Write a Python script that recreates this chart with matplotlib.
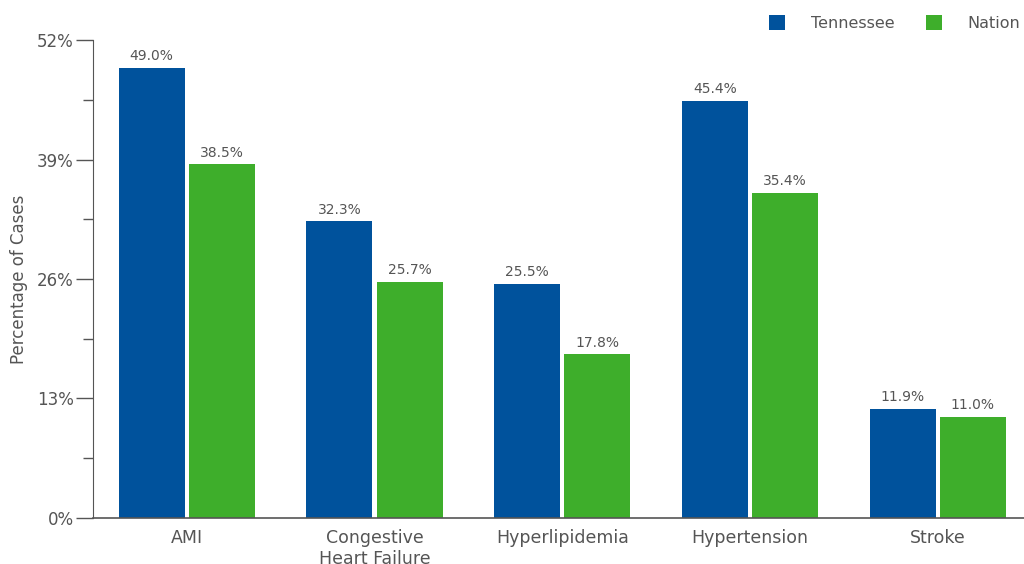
import matplotlib.pyplot as plt
import numpy as np
from matplotlib.ticker import MultipleLocator, FuncFormatter

categories = ['AMI', 'Congestive\nHeart Failure', 'Hyperlipidemia', 'Hypertension', 'Stroke']
tennessee = [49.0, 32.3, 25.5, 45.4, 11.9]
nation = [38.5, 25.7, 17.8, 35.4, 11.0]

blue = '#00529C'
green = '#3EAE2B'
grey = '#555555'

plt.rcParams['font.family'] = ['DejaVu Sans']

fig = plt.figure(figsize=(10.24, 5.64), dpi=100)
ax = fig.add_axes([0.0908, 0.0816, 0.9092, 0.8474])

x = np.arange(len(categories))
w = 0.352
gap = 0.011
b1 = ax.bar(x - w / 2 - gap, tennessee, w, color=blue, label='Tennessee')
b2 = ax.bar(x + w / 2 + gap, nation, w, color=green, label='Nation')

for bars, vals in ((b1, tennessee), (b2, nation)):
    for b, v in zip(bars, vals):
        ax.text(b.get_x() + b.get_width() / 2, v + 0.5, f'{v:.1f}%',
                ha='center', va='bottom', fontsize=10, color=grey)

ax.set_xlim(-0.5, 4.46)
ax.set_ylim(0, 52)
ax.yaxis.set_major_locator(MultipleLocator(13))
ax.yaxis.set_minor_locator(MultipleLocator(6.5))
ax.yaxis.set_major_formatter(FuncFormatter(lambda v, p: f'{v:.0f}%'))
ax.tick_params(axis='y', which='major', length=12, width=1, color=grey,
               labelsize=12, labelcolor=grey, pad=2)
ax.tick_params(axis='y', which='minor', length=7, width=1, color=grey)
ax.set_xticks(x)
ax.set_xticklabels(categories, fontsize=12.5, color=grey, linespacing=1.2)
ax.tick_params(axis='x', length=0, pad=8)

for s in ('top', 'right'):
    ax.spines[s].set_visible(False)
ax.spines['left'].set_color(grey)
ax.spines['bottom'].set_color(grey)
ax.spines['bottom'].set_linewidth(1.2)

ax.set_ylabel('Percentage of Cases', fontsize=12, color=grey, labelpad=6)

ax.legend(loc='upper right', bbox_to_anchor=(1.003, 1.065), ncol=2, frameon=False,
          fontsize=11.5, labelcolor=grey, handlelength=1.0, handleheight=1.0,
          handletextpad=1.6, columnspacing=2.0, borderaxespad=0.0)

fig.savefig('out.png', dpi=100)
